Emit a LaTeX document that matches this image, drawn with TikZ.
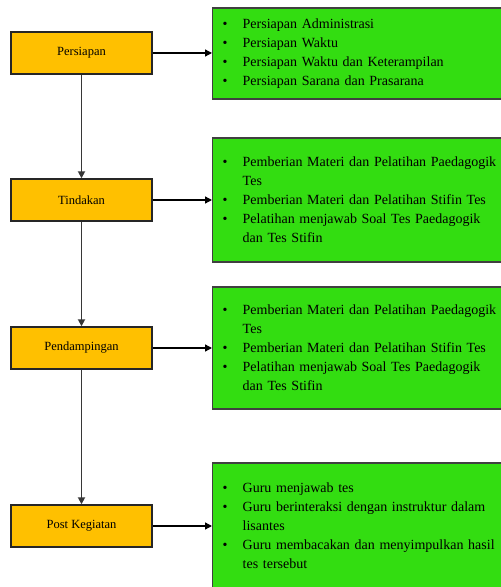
\documentclass[tikz,border=0pt]{standalone}
\usepackage{fontspec}
\setmainfont{Liberation Serif}
\usetikzlibrary{arrows.meta}
\definecolor{stepor}{RGB}{255,192,0}
\definecolor{stepgr}{RGB}{51,221,17}
\definecolor{stepln}{RGB}{55,55,55}
\tikzset{
  phase/.style={draw=black!85, line width=1.4pt, fill=stepor, minimum width=141pt, minimum height=42pt, inner sep=0pt, font=\fontsize{12.5}{14}\selectfont},
  detail/.style={draw=black!75, line width=1.4pt, fill=stepgr, anchor=west, minimum width=310pt, text width=290pt, align=left, inner xsep=4pt, inner ysep=0pt, font=\fontsize{14}{19}\selectfont},
  flow/.style={draw=stepln, line width=1.7pt, -{Triangle[length=7pt,width=7pt]}},
  side/.style={draw=black, line width=1.3pt, -{Triangle[length=7pt,width=7pt]}}
}
\newcommand{\bitem}[1]{\makebox[20pt][l]{\textbullet}#1}
\newcommand{\bcont}[1]{\hspace*{20pt}#1}
\begin{document}
\begin{tikzpicture}[x=1pt,y=1pt]
\useasboundingbox (0,0) rectangle (501,587);
\clip (0,0) rectangle (501,587);
\fill[white] (0,0) rectangle (501,587);
\node[phase] (p1) at (81.5,534) {Persiapan};
\node[phase] (p2) at (81.5,387) {Tindakan};
\node[phase] (p3) at (81.5,239) {Pendampingan};
\node[phase] (p4) at (81.5,61) {Post Kegiatan};
\node[detail, minimum height=91pt] (g1) at (212,533.5) {\bitem{Persiapan Administrasi}\\\bitem{Persiapan Waktu}\\\bitem{Persiapan Waktu dan Keterampilan}\\\bitem{Persiapan Sarana dan Prasarana}};
\node[detail, minimum height=124pt] (g2) at (212,387) {\bitem{Pemberian Materi dan Pelatihan Paedagogik}\\\bcont{Tes}\\\bitem{Pemberian Materi dan Pelatihan Stifin Tes}\\\bitem{Pelatihan menjawab Soal Tes Paedagogik}\\\bcont{dan Tes Stifin}\\[6pt]};
\node[detail, minimum height=122pt] (g3) at (212,239) {\bitem{Pemberian Materi dan Pelatihan Paedagogik}\\\bcont{Tes}\\\bitem{Pemberian Materi dan Pelatihan Stifin Tes}\\\bitem{Pelatihan menjawab Soal Tes Paedagogik}\\\bcont{dan Tes Stifin}\\[6pt]};
\node[detail, minimum height=126pt] (g4) at (212,61) {\bitem{Guru menjawab tes}\\\bitem{Guru berinteraksi dengan instruktur dalam}\\\bcont{lisantes}\\\bitem{Guru membacakan dan menyimpulkan hasil}\\\bcont{tes tersebut}};
\draw[flow] (p1) -- (p2);
\draw[flow] (p2) -- (p3);
\draw[flow] (p3) -- (p4);
\draw[side] (p1.east) -- (p1.east -| g1.west);
\draw[side] (p2.east) -- (p2.east -| g2.west);
\draw[side] (p3.east) -- (p3.east -| g3.west);
\draw[side] (p4.east) -- (p4.east -| g4.west);
\end{tikzpicture}
\end{document}
